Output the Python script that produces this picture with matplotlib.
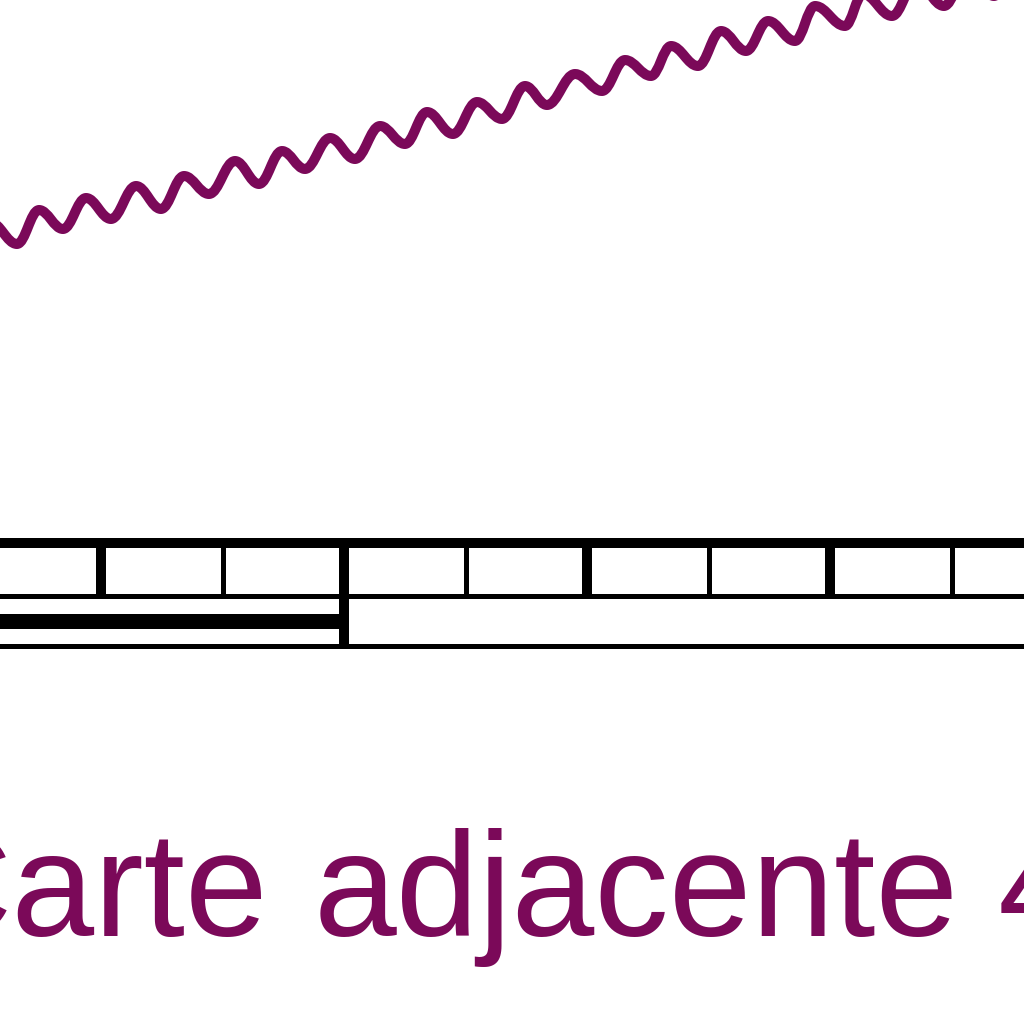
import matplotlib
matplotlib.use("Agg")
import matplotlib.pyplot as plt
from matplotlib.path import Path
from matplotlib.patches import PathPatch

# ---- data (pixel-like map coordinates) ----
# wavy boundary line: alternating trough / crest positions
wave_x = [-10, 17, 39, 63, 86, 111, 136, 161, 184, 209, 235, 259, 282, 305,
          330, 355, 380, 405, 427, 453, 477, 502, 525, 547, 575, 602, 625,
          651, 671, 698, 721, 746, 768, 795, 815, 845, 863, 892, 916, 944,
          968, 994, 1018, 1044]
wave_y = [222, 244, 210, 229, 198, 219, 186, 209, 176, 194, 161, 184, 151,
          169, 138, 159, 126, 144, 112, 134, 102, 119, 86, 105, 74, 91, 60,
          76, 46, 66, 31, 51, 21, 41, 6, 26, -6, 16, -18, 6, -30, -4, -42, -14]

# scale bar
bar_top_y = 543
bar_mid_y = 595.5
bar_bot_y = 645.5
major_ticks = [101, 344, 587, 830]
minor_ticks = [222.5, 465.5, 708.5, 951.5]
filled_start = -10
filled_end = 344
filled_y = 620.5

# label words and their left positions
label_words = ["Carte", "adjacente", "4"]
label_x = [-96, 313.5, 998]
label_y = 936

PURPLE = "#7B0959"
BLACK = "#000000"

def px(v):
    return v * 72.0 / 100.0

fig = plt.figure(figsize=(10.24, 10.24), dpi=100)
ax = fig.add_axes([0, 0, 1, 1])
ax.set_xlim(0, 1024)
ax.set_ylim(1024, 0)
ax.axis("off")

# wavy line as smooth bezier path through crests/troughs
verts = [(wave_x[0], wave_y[0])]
codes = [Path.MOVETO]
for i in range(len(wave_x) - 1):
    x0, y0 = wave_x[i], wave_y[i]
    x1, y1 = wave_x[i + 1], wave_y[i + 1]
    d = x1 - x0
    verts += [(x0 + 0.38 * d, y0), (x1 - 0.38 * d, y1), (x1, y1)]
    codes += [Path.CURVE4] * 3
ax.add_patch(PathPatch(Path(verts, codes), fill=False, edgecolor=PURPLE,
                       linewidth=px(10), capstyle="butt", joinstyle="round"))

# scale bar lines
ax.hlines([bar_top_y], -10, 1034, colors=BLACK, linewidth=px(10))
ax.hlines([bar_mid_y, bar_bot_y], -10, 1034, colors=BLACK, linewidth=px(5))
ax.vlines(major_ticks, bar_top_y, bar_mid_y, colors=BLACK, linewidth=px(10))
ax.vlines(minor_ticks, bar_top_y, bar_mid_y, colors=BLACK, linewidth=px(5))
ax.vlines([filled_end], bar_mid_y, bar_bot_y, colors=BLACK, linewidth=px(10))
ax.hlines([filled_y], filled_start, filled_end, colors=BLACK, linewidth=px(15))

for word, xw in zip(label_words, label_x):
    ax.text(xw, label_y, word, fontsize=107, color=PURPLE,
            family=["Liberation Sans", "DejaVu Sans"], ha="left", va="baseline")

fig.savefig("out.png", dpi=100)
